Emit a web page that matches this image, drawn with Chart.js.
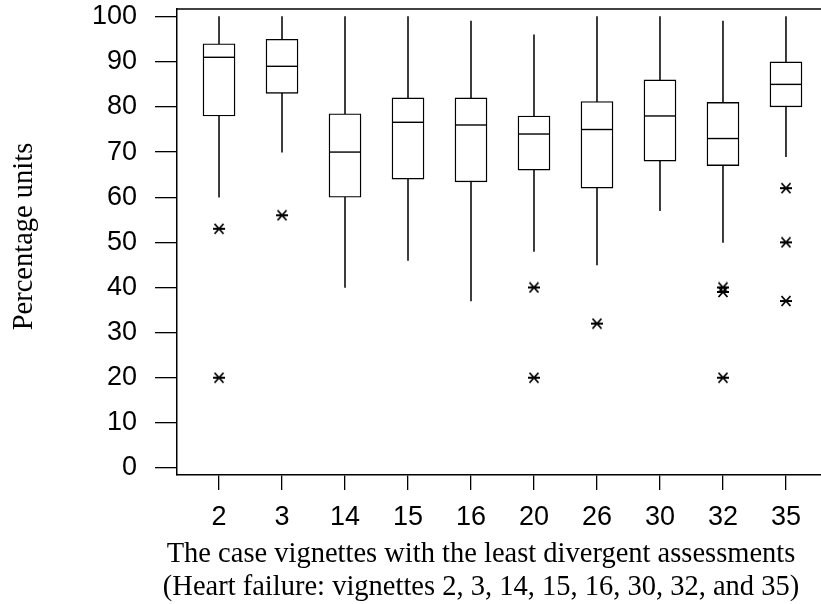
<!DOCTYPE html>
<html>
<head>
<meta charset="utf-8">
<script src="https://cdn.jsdelivr.net/npm/chart.js@4.4.1/dist/chart.umd.min.js"></script>
<style>
  html, body { margin: 0; padding: 0; background: #fff; }
  #wrap { width: 821px; height: 604px; }
</style>
</head>
<body>
<div id="wrap"><canvas id="boxChart" width="821" height="604"></canvas></div>
<script>
// vignette numbers along the x axis
const categories = ['2', '3', '14', '15', '16', '20', '26', '30', '32', '35'];
const yTickValues = [0, 10, 20, 30, 40, 50, 60, 70, 80, 90, 100];

// box plot summary per vignette (percentage units)
const whiskerLow  = [60, 70, 40, 46, 37, 48, 45, 57, 50, 69];
const q1          = [78, 83, 60, 64, 63.4, 66, 62, 68, 67, 80];
const median      = [91, 89, 70, 76.6, 76, 74, 75, 78, 73, 85];
const q3          = [94, 95, 78.5, 82, 82, 78, 81.2, 86, 81, 90];
const whiskerHigh = [100, 100, 100, 100, 99, 96, 100, 100, 99, 100];
const outliers    = [[53, 20], [56], [], [], [], [40, 20], [32], [], [40, 39, 20], [62, 50, 37]];

const yTitle = 'Percentage units';
const xTitleLines = [
    'The case vignettes with the least divergent assessments',
    '(Heart failure: vignettes 2, 3, 14, 15, 16, 30, 32, and 35)'
];

// little six-armed star used for the outliers
const makeAsterisk = () => {
    const c = document.createElement('canvas');
    c.width = 14;
    c.height = 12;
    const g = c.getContext('2d');
    g.strokeStyle = '#000';
    g.lineWidth = 1.8;
    g.beginPath();
    g.moveTo(1, 6); g.lineTo(13, 6);
    g.moveTo(2.5, 1); g.lineTo(11.5, 11);
    g.moveTo(2.5, 11); g.lineTo(11.5, 1);
    g.stroke();
    return c;
};

const frameAndTitles = {
    id: 'frameAndTitles',
    afterDraw(chart) {
        const { ctx, chartArea } = chart;
        ctx.save();
        // top edge of the frame
        ctx.strokeStyle = '#000';
        ctx.lineWidth = 1.5;
        ctx.beginPath();
        ctx.moveTo(chartArea.left, chartArea.top);
        ctx.lineTo(chartArea.right, chartArea.top);
        ctx.stroke();

        ctx.fillStyle = '#000';
        ctx.font = '28.5px "Liberation Serif", "Times New Roman", serif';
        ctx.textAlign = 'center';
        ctx.textBaseline = 'alphabetic';
        ctx.fillText(xTitleLines[0], 481, 562);
        ctx.fillText(xTitleLines[1], 481, 595);

        ctx.translate(32, 236.5);
        ctx.rotate(-Math.PI / 2);
        ctx.fillText(yTitle, 0, 0);
        ctx.restore();
    }
};

const whiskerData = categories.map((c, i) => ({ x: i, y: [whiskerLow[i], whiskerHigh[i]] }));
const boxData = categories.map((c, i) => ({ x: i, y: [q1[i], q3[i]] }));
const medianData = categories.map((c, i) => ({ x: i, y: median[i] }));
const outlierData = [];
outliers.forEach((vals, i) => vals.forEach(v => outlierData.push({ x: i, y: v })));

const tickFont = { family: '"Liberation Sans", Arial, sans-serif', size: 27, lineHeight: 0.6 };

new Chart(document.getElementById('boxChart'), {
    type: 'bar',
    data: {
        datasets: [
            {
                type: 'scatter',
                data: outlierData,
                pointStyle: makeAsterisk(),
                order: 0
            },
            {
                type: 'scatter',
                data: medianData,
                pointStyle: 'line',
                pointRadius: 15.5,
                borderColor: '#000',
                borderWidth: 1.4,
                order: 1
            },
            {
                data: boxData,
                backgroundColor: '#fff',
                borderColor: '#000',
                borderWidth: 1.4,
                borderSkipped: false,
                barThickness: 32,
                grouped: false,
                order: 2
            },
            {
                data: whiskerData,
                backgroundColor: '#222',
                borderWidth: 0,
                barThickness: 1.1,
                grouped: false,
                order: 3
            }
        ]
    },
    options: {
        responsive: false,
        animation: false,
        layout: { autoPadding: false, padding: { top: 9, right: 0, bottom: 0, left: 0 } },
        plugins: { legend: { display: false }, tooltip: { enabled: false } },
        scales: {
            x: {
                type: 'linear',
                offset: false,
                min: -0.667,
                max: 9.556,
                grid: { offset: false, drawOnChartArea: false, drawTicks: true, tickLength: 15, color: '#000', lineWidth: 1.3 },
                border: { color: '#000', width: 1.5 },
                ticks: {
                    color: '#000',
                    font: tickFont,
                    padding: 19,
                    maxRotation: 0,
                    callback: (value) => categories[value] ?? ''
                },
                afterBuildTicks: (scale) => { scale.ticks = categories.map((c, i) => ({ value: i })); },
                afterFit: (scale) => {
                    scale.height = 129;
                    scale.paddingLeft = 0;
                    scale.paddingRight = 0;
                }
            },
            y: {
                min: -1.55,
                max: 101.7,
                grid: { drawOnChartArea: false, drawTicks: true, tickLength: 22, color: '#000', lineWidth: 1.3 },
                border: { color: '#000', width: 1.5 },
                ticks: { color: '#000', font: tickFont, padding: 18 },
                afterBuildTicks: (scale) => { scale.ticks = yTickValues.map(v => ({ value: v })); },
                afterFit: (scale) => {
                    scale.width = 177;
                    scale.paddingTop = 0;
                    scale.paddingBottom = 0;
                }
            }
        }
    },
    plugins: [frameAndTitles]
});
</script>
</body>
</html>
